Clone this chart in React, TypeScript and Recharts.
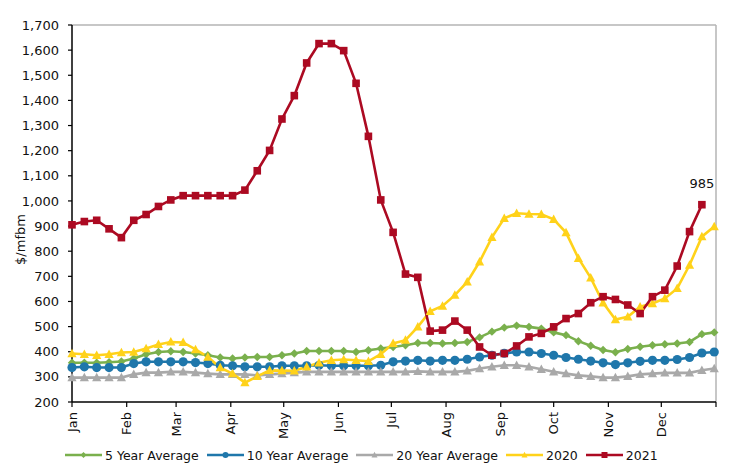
import React from 'react';
import { LineChart, Line, XAxis, YAxis, ReferenceLine } from 'recharts';

// Day-of-year of each weekly observation
const weekDays = [0, 7, 14, 21, 28, 35, 42, 49, 56, 63, 70, 77, 84, 91, 98, 105, 112, 119, 126, 133, 140, 147, 154, 161, 168, 175, 182, 189, 196, 203, 210, 217, 224, 231, 238, 245, 252, 259, 266, 273, 280, 287, 294, 301, 308, 315, 322, 329, 336, 343, 350, 357, 364];

// Month start days (x-axis ticks) and their labels
const monthStarts = [0, 31, 59, 90, 120, 151, 181, 212, 243, 273, 304, 334, 365];
const monthLabels = ['Jan', 'Feb', 'Mar', 'Apr', 'May', 'Jun', 'Jul', 'Aug', 'Sep', 'Oct', 'Nov', 'Dec', ''];

const yTicks = [200, 300, 400, 500, 600, 700, 800, 900, 1000, 1100, 1200, 1300, 1400, 1500, 1600, 1700];

const avg5 = [356, 356, 356, 358, 361, 373, 390, 399, 402, 399, 393, 386, 377, 373, 377, 379, 379, 386, 393, 403, 403, 403, 403, 399, 406, 413, 419, 426, 435, 435, 433, 435, 439, 457, 480, 496, 504, 499, 492, 477, 466, 442, 424, 407, 398, 411, 420, 426, 430, 433, 439, 470, 477];
const avg10 = [337, 340, 337, 337, 337, 353, 360, 360, 360, 360, 357, 353, 346, 344, 340, 340, 340, 344, 344, 344, 346, 344, 344, 344, 344, 346, 360, 363, 366, 363, 366, 366, 370, 379, 386, 394, 399, 399, 393, 386, 377, 370, 363, 356, 349, 356, 362, 366, 366, 369, 377, 395, 399];
const avg20 = [297, 297, 297, 297, 297, 310, 317, 317, 320, 320, 317, 313, 310, 310, 310, 306, 310, 313, 317, 320, 320, 320, 320, 320, 320, 320, 320, 320, 322, 320, 320, 320, 324, 333, 340, 346, 346, 340, 330, 320, 313, 306, 302, 297, 297, 302, 310, 313, 316, 316, 316, 326, 333];
const y2020 = [393, 390, 386, 390, 397, 399, 413, 429, 439, 437, 409, 379, 337, 313, 277, 302, 326, 325, 324, 340, 356, 366, 369, 366, 362, 390, 433, 446, 499, 561, 582, 625, 678, 758, 855, 931, 951, 948, 947, 927, 874, 772, 694, 595, 528, 539, 579, 592, 612, 652, 745, 858, 898];
const y2021 = [905, 918, 923, 889, 854, 923, 946, 978, 1004, 1021, 1021, 1021, 1021, 1021, 1043, 1120, 1201, 1326, 1419, 1549, 1626, 1626, 1598, 1468, 1257, 1004, 875, 709, 696, 482, 486, 522, 486, 419, 386, 393, 423, 459, 473, 499, 532, 552, 595, 619, 608, 586, 552, 619, 645, 741, 878, 985, null];

const seriesKeys = ['avg5', 'avg10', 'avg20', 'y2020', 'y2021'];
const seriesNames = ['5 Year Average', '10 Year Average', '20 Year Average', '2020', '2021'];
const seriesColors = ['#7AB04D', '#1F77AB', '#A9A9A9', '#FFD21A', '#AC0A22'];
const seriesShapes = ['diamond', 'circle', 'triangle', 'triangle', 'square'];

const data = weekDays.map((day, i) => ({
  day,
  avg5: avg5[i],
  avg10: avg10[i],
  avg20: avg20[i],
  y2020: y2020[i],
  y2021: y2021[i],
}));

const FONT = '"DejaVu Sans", Verdana, sans-serif';

function Marker({ shape, cx, cy, color, s }: { shape: string; cx: number; cy: number; color: string; s: number }) {
  if (shape === 'circle') return <circle cx={cx} cy={cy} r={s} fill={color} />;
  if (shape === 'square') return <rect x={cx - s} y={cy - s} width={2 * s} height={2 * s} fill={color} />;
  if (shape === 'diamond')
    return <polygon points={`${cx},${cy - s} ${cx + s},${cy} ${cx},${cy + s} ${cx - s},${cy}`} fill={color} />;
  return (
    <polygon points={`${cx},${cy - s * 1.05} ${cx + s},${cy + s * 0.8} ${cx - s},${cy + s * 0.8}`} fill={color} />
  );
}

const markerSize: Record<string, number> = { circle: 4.6, square: 3.8, diamond: 4.2, triangle: 4.6 };

function makeDot(shape: string, color: string) {
  return (props: any) => {
    const { cx, cy, index, value } = props;
    if (cx == null || cy == null || value == null) return <g key={`e-${index}`} />;
    return (
      <g key={`d-${index}`}>
        <Marker shape={shape} cx={cx} cy={cy} color={color} s={markerSize[shape]} />
      </g>
    );
  };
}

const XTick = (props: any) => {
  const { x, y, payload } = props;
  const label = monthLabels[monthStarts.indexOf(payload.value)] ?? '';
  return (
    <text
      x={x}
      y={y}
      transform={`rotate(-90 ${x} ${y})`}
      textAnchor="end"
      dominantBaseline="central"
      fontSize={13}
      fontFamily={FONT}
      fill="#111"
    >
      {label}
    </text>
  );
};

const YLabel = (props: any) => {
  const vb = props.viewBox || {};
  const cx = 20;
  const cy = (vb.y ?? 25) + (vb.height ?? 377) / 2 + 26;
  return (
    <text
      x={cx}
      y={cy}
      transform={`rotate(-90 ${cx} ${cy})`}
      textAnchor="middle"
      dominantBaseline="central"
      fontSize={13}
      fontFamily={FONT}
      fill="#111"
    >
      $/mfbm
    </text>
  );
};

const lastLabel = (props: any) => {
  const { x, y, value, index } = props;
  if (index !== 51 || value == null) return <g key={`l-${index}`} />;
  return (
    <text key={`l-${index}`} x={x} y={y - 21} textAnchor="middle" dominantBaseline="central" fontSize={13} fontFamily={FONT} fill="#111">
      {value}
    </text>
  );
};

export default function App() {
  return (
    <div style={{ position: 'relative', width: 748, height: 465, background: '#fff' }}>
      <style>{'body{margin:0;background:#fff}'}</style>
      <LineChart width={748} height={465} data={data} margin={{ top: 25, right: 32, bottom: 23, left: 12 }}>
        <XAxis
          dataKey="day"
          type="number"
          domain={[0, 365]}
          ticks={monthStarts}
          interval={0}
          height={40}
          tick={<XTick />}
          tickSize={5}
          tickMargin={5}
          axisLine={{ stroke: '#000', strokeWidth: 1.5 }}
          tickLine={{ stroke: '#000', strokeWidth: 1.2 }}
        />
        <YAxis
          type="number"
          domain={[200, 1700]}
          ticks={yTicks}
          interval={0}
          width={60}
          tickSize={4}
          tickMargin={9}
          tickFormatter={(v: number) => v.toLocaleString('en-US')}
          tick={{ fontSize: 13, fontFamily: FONT, fill: '#111' }}
          axisLine={{ stroke: '#000', strokeWidth: 1.5 }}
          tickLine={{ stroke: '#000', strokeWidth: 1.2 }}
          label={<YLabel />}
        />
        <ReferenceLine y={1700} stroke="#B4B4B4" strokeWidth={1.5} />
        <ReferenceLine x={365} stroke="#B4B4B4" strokeWidth={1.5} />
        {seriesKeys.map((k, i) => (
          <Line
            key={k}
            dataKey={k}
            name={seriesNames[i]}
            stroke={seriesColors[i]}
            strokeWidth={2.6}
            dot={makeDot(seriesShapes[i], seriesColors[i])}
            activeDot={false}
            isAnimationActive={false}
            connectNulls={false}
            label={k === 'y2021' ? lastLabel : undefined}
          />
        ))}
      </LineChart>
      <div
        style={{
          position: 'absolute',
          left: 65,
          top: 446,
          height: 18,
          display: 'flex',
          alignItems: 'center',
          fontFamily: FONT,
          fontSize: 12.5,
          color: '#111',
          whiteSpace: 'nowrap',
        }}
      >
        {seriesNames.map((n, i) => (
          <div key={n} style={{ display: 'flex', alignItems: 'center', marginRight: 8 }}>
            <svg width={37} height={10} style={{ marginRight: 3 }}>
              <line x1={0} y1={5} x2={37} y2={5} stroke={seriesColors[i]} strokeWidth={2.6} />
              <Marker shape={seriesShapes[i]} cx={18.5} cy={5} color={seriesColors[i]} s={3} />
            </svg>
            <span>{n}</span>
          </div>
        ))}
      </div>
    </div>
  );
}
